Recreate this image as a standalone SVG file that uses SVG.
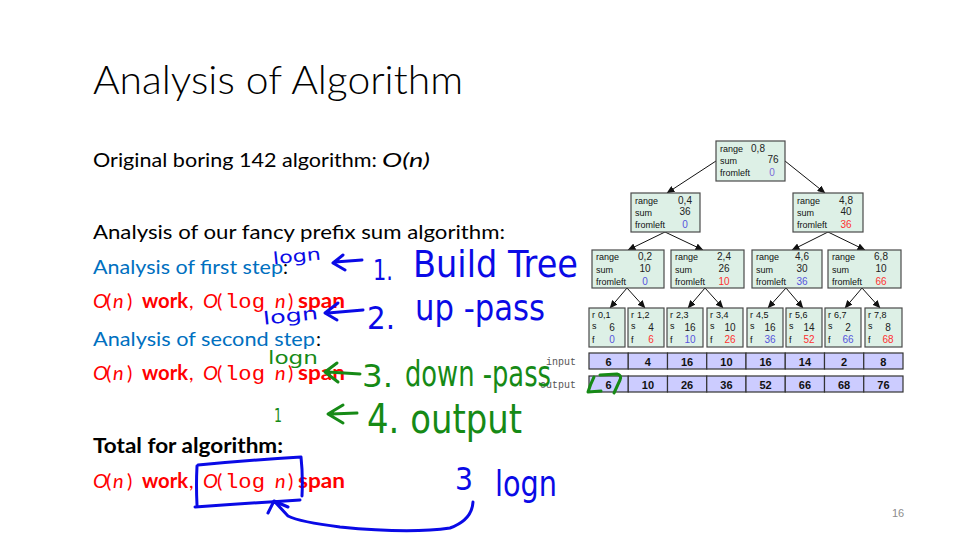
<svg xmlns="http://www.w3.org/2000/svg" width="960" height="540" viewBox="0 0 960 540">
<defs>
<marker id="ah" markerUnits="userSpaceOnUse" markerWidth="8" markerHeight="7" refX="7.5" refY="3.5" orient="auto">
<path d="M0,0 L8,3.5 L0,7 z" fill="#111"/>
</marker>
<style>
.t{font-family:Lato,"Open Sans","Liberation Sans",sans-serif;fill:#000}
.body{font-size:20px}
.red{fill:#ff0000}
.blu{fill:#0070c0}
.it{font-style:italic}
.b{font-weight:bold}
.mono{font-family:"Liberation Mono","DejaVu Sans Mono",monospace}
.box{fill:#ddf0e6;stroke:#4a4a4a;stroke-width:1.2}
.cell{fill:#ccccff;stroke:#333;stroke-width:1.2}
.lb{font-family:"Liberation Sans",Arial,sans-serif;font-size:9px;fill:#111}
.v{font-family:"Liberation Sans",Arial,sans-serif;font-size:10px;fill:#222;text-anchor:middle}
.fb{fill:#5555dd}
.fr{fill:#ff3030}
.fp{fill:#7a6ad8}
.cv{font-family:"Liberation Sans",Arial,sans-serif;font-size:11px;fill:#111;text-anchor:middle;font-weight:bold}
.io{font-family:"Liberation Mono",monospace;font-size:10px;fill:#555;text-anchor:end}
.conn line{stroke:#111;stroke-width:1;marker-end:url(#ah)}
.hw{font-family:"DejaVu Sans","Liberation Sans",sans-serif}
.hb{fill:#0a0ae6}
.hg{fill:#168a16}
.sb{fill:none;stroke:#0a0ae6;stroke-width:3;stroke-linecap:round;stroke-linejoin:round}
.sg{fill:none;stroke:#168a16;stroke-width:3;stroke-linecap:round;stroke-linejoin:round}
</style>
</defs>
<rect width="960" height="540" fill="#fff"/>

<g id="slide-text">
<text class="t" x="93" y="94" font-size="39" font-weight="300" textLength="370" lengthAdjust="spacingAndGlyphs">Analysis of Algorithm</text>
<text class="t body" y="167"><tspan x="93" textLength="284" lengthAdjust="spacingAndGlyphs">Original boring 142 algorithm:</tspan><tspan class="it" x="382" textLength="48" lengthAdjust="spacingAndGlyphs">O(n)</tspan></text>
<text class="t body" x="93" y="239" textLength="412" lengthAdjust="spacingAndGlyphs">Analysis of our fancy prefix sum algorithm:</text>
<text class="t body" y="274"><tspan class="blu" x="93" textLength="190" lengthAdjust="spacingAndGlyphs">Analysis of first step</tspan><tspan x="283">:</tspan></text>
<text class="t body red" y="308"><tspan class="it" x="93">O</tspan><tspan x="106">(</tspan><tspan class="it" x="113">n</tspan><tspan x="127">)</tspan><tspan class="b" x="142" textLength="46" lengthAdjust="spacingAndGlyphs">work</tspan><tspan x="189">,</tspan><tspan class="it" x="203">O</tspan><tspan x="217">(</tspan><tspan class="mono" x="225" textLength="40" lengthAdjust="spacingAndGlyphs">log</tspan><tspan class="it" x="275">n</tspan><tspan x="288">)</tspan><tspan class="b" x="298" textLength="47" lengthAdjust="spacingAndGlyphs">span</tspan></text>
<text class="t body" y="346"><tspan class="blu" x="93" textLength="222" lengthAdjust="spacingAndGlyphs">Analysis of second step</tspan><tspan x="316">:</tspan></text>
<text class="t body red" y="380"><tspan class="it" x="93">O</tspan><tspan x="106">(</tspan><tspan class="it" x="113">n</tspan><tspan x="127">)</tspan><tspan class="b" x="142" textLength="46" lengthAdjust="spacingAndGlyphs">work</tspan><tspan x="189">,</tspan><tspan class="it" x="203">O</tspan><tspan x="217">(</tspan><tspan class="mono" x="225" textLength="40" lengthAdjust="spacingAndGlyphs">log</tspan><tspan class="it" x="275">n</tspan><tspan x="288">)</tspan><tspan class="b" x="298" textLength="47" lengthAdjust="spacingAndGlyphs">span</tspan></text>
<text class="t body b" x="93" y="453" textLength="190" lengthAdjust="spacingAndGlyphs">Total for algorithm:</text>
<text class="t body red" y="488"><tspan class="it" x="93">O</tspan><tspan x="106">(</tspan><tspan class="it" x="113">n</tspan><tspan x="127">)</tspan><tspan class="b" x="142" textLength="46" lengthAdjust="spacingAndGlyphs">work</tspan><tspan x="189">,</tspan><tspan class="it" x="203">O</tspan><tspan x="217">(</tspan><tspan class="mono" x="225" textLength="40" lengthAdjust="spacingAndGlyphs">log</tspan><tspan class="it" x="275">n</tspan><tspan x="288">)</tspan><tspan class="b" x="298" textLength="47" lengthAdjust="spacingAndGlyphs">span</tspan></text>
<text x="892" y="517" font-family="Liberation Sans,sans-serif" font-size="11" fill="#8c8c8c">16</text>
</g>

<g id="connectors" class="conn">
<line x1="716" y1="161" x2="667" y2="193"/>
<line x1="785" y1="161" x2="825" y2="193"/>
<line x1="665" y1="232" x2="628" y2="250"/>
<line x1="665" y1="232" x2="703" y2="250"/>
<line x1="828" y1="232" x2="792" y2="250"/>
<line x1="828" y1="232" x2="865" y2="250"/>
<line x1="627" y1="288" x2="610" y2="308"/>
<line x1="627" y1="288" x2="645" y2="308"/>
<line x1="705" y1="288" x2="688" y2="308"/>
<line x1="705" y1="288" x2="723" y2="308"/>
<line x1="786" y1="288" x2="768" y2="308"/>
<line x1="786" y1="288" x2="803" y2="308"/>
<line x1="862" y1="288" x2="845" y2="308"/>
<line x1="862" y1="288" x2="880" y2="308"/>
</g>

<g id="node-0-8">
<rect class="box" x="716" y="141" width="69" height="40"/>
<text class="lb" x="720" y="152">range</text><text class="v" x="758" y="152">0,8</text>
<text class="lb" x="720" y="164">sum</text><text class="v" x="773" y="163">76</text>
<text class="lb" x="720" y="176">fromleft</text><text class="v fp" x="772" y="176">0</text>
</g>
<g id="node-0-4">
<rect class="box" x="631" y="193" width="69" height="39"/>
<text class="lb" x="635" y="204">range</text><text class="v" x="685" y="204">0,4</text>
<text class="lb" x="635" y="216">sum</text><text class="v" x="685" y="215">36</text>
<text class="lb" x="635" y="228">fromleft</text><text class="v fb" x="685" y="228">0</text>
</g>
<g id="node-4-8">
<rect class="box" x="793" y="193" width="70" height="39"/>
<text class="lb" x="797" y="204">range</text><text class="v" x="846" y="204">4,8</text>
<text class="lb" x="797" y="216">sum</text><text class="v" x="846" y="215">40</text>
<text class="lb" x="797" y="228">fromleft</text><text class="v fr" x="846" y="228">36</text>
</g>
<g id="node-0-2">
<rect class="box" x="592" y="250" width="72" height="38"/>
<text class="lb" x="596" y="260">range</text><text class="v" x="645" y="260">0,2</text>
<text class="lb" x="596" y="272.5">sum</text><text class="v" x="645" y="271.5">10</text>
<text class="lb" x="596" y="284.5">fromleft</text><text class="v fb" x="645" y="284.5">0</text>
</g>
<g id="node-2-4">
<rect class="box" x="671" y="250" width="73" height="38"/>
<text class="lb" x="675" y="260">range</text><text class="v" x="724" y="260">2,4</text>
<text class="lb" x="675" y="272.5">sum</text><text class="v" x="724" y="271.5">26</text>
<text class="lb" x="675" y="284.5">fromleft</text><text class="v fr" x="724" y="284.5">10</text>
</g>
<g id="node-4-6">
<rect class="box" x="752" y="250" width="70" height="38"/>
<text class="lb" x="756" y="260">range</text><text class="v" x="802" y="260">4,6</text>
<text class="lb" x="756" y="272.5">sum</text><text class="v" x="802" y="271.5">30</text>
<text class="lb" x="756" y="284.5">fromleft</text><text class="v fb" x="802" y="284.5">36</text>
</g>
<g id="node-6-8">
<rect class="box" x="828" y="250" width="73" height="38"/>
<text class="lb" x="832" y="260">range</text><text class="v" x="881" y="260">6,8</text>
<text class="lb" x="832" y="272.5">sum</text><text class="v" x="881" y="271.5">10</text>
<text class="lb" x="832" y="284.5">fromleft</text><text class="v fr" x="881" y="284.5">66</text>
</g>

<g id="leaf-0-1"><rect class="box" x="589" y="308" width="36" height="39"/><text class="lb" x="592" y="318">r</text><text class="lb" x="598" y="318">0,1</text><text class="lb" x="592" y="329">s</text><text class="v" x="612" y="331">6</text><text class="lb" x="592" y="343">f</text><text class="v fb" x="612" y="343">0</text></g>
<g id="leaf-1-2"><rect class="box" x="628" y="308" width="36" height="39"/><text class="lb" x="631" y="318">r</text><text class="lb" x="637" y="318">1,2</text><text class="lb" x="631" y="329">s</text><text class="v" x="651" y="331">4</text><text class="lb" x="631" y="343">f</text><text class="v fr" x="651" y="343">6</text></g>
<g id="leaf-2-3"><rect class="box" x="667" y="308" width="36" height="39"/><text class="lb" x="670" y="318">r</text><text class="lb" x="676" y="318">2,3</text><text class="lb" x="670" y="329">s</text><text class="v" x="690" y="331">16</text><text class="lb" x="670" y="343">f</text><text class="v fb" x="690" y="343">10</text></g>
<g id="leaf-3-4"><rect class="box" x="707" y="308" width="36" height="39"/><text class="lb" x="710" y="318">r</text><text class="lb" x="716" y="318">3,4</text><text class="lb" x="710" y="329">s</text><text class="v" x="730" y="331">10</text><text class="lb" x="710" y="343">f</text><text class="v fr" x="730" y="343">26</text></g>
<g id="leaf-4-5"><rect class="box" x="747" y="308" width="36" height="39"/><text class="lb" x="750" y="318">r</text><text class="lb" x="756" y="318">4,5</text><text class="lb" x="750" y="329">s</text><text class="v" x="770" y="331">16</text><text class="lb" x="750" y="343">f</text><text class="v fb" x="770" y="343">36</text></g>
<g id="leaf-5-6"><rect class="box" x="786" y="308" width="36" height="39"/><text class="lb" x="789" y="318">r</text><text class="lb" x="795" y="318">5,6</text><text class="lb" x="789" y="329">s</text><text class="v" x="809" y="331">14</text><text class="lb" x="789" y="343">f</text><text class="v fr" x="809" y="343">52</text></g>
<g id="leaf-6-7"><rect class="box" x="825" y="308" width="36" height="39"/><text class="lb" x="828" y="318">r</text><text class="lb" x="834" y="318">6,7</text><text class="lb" x="828" y="329">s</text><text class="v" x="848" y="331">2</text><text class="lb" x="828" y="343">f</text><text class="v fb" x="848" y="343">66</text></g>
<g id="leaf-7-8"><rect class="box" x="865" y="308" width="37" height="39"/><text class="lb" x="868" y="318">r</text><text class="lb" x="874" y="318">7,8</text><text class="lb" x="868" y="329">s</text><text class="v" x="888" y="331">8</text><text class="lb" x="868" y="343">f</text><text class="v fr" x="888" y="343">68</text></g>

<g id="input-row">
<text class="io" x="576" y="365">input</text>
<rect class="cell" x="589" y="353" width="39.25" height="16"/><rect class="cell" x="628.25" y="353" width="39.25" height="16"/><rect class="cell" x="667.5" y="353" width="39.25" height="16"/><rect class="cell" x="706.75" y="353" width="39.25" height="16"/><rect class="cell" x="746" y="353" width="39.25" height="16"/><rect class="cell" x="785.25" y="353" width="39.25" height="16"/><rect class="cell" x="824.5" y="353" width="39.25" height="16"/><rect class="cell" x="863.75" y="353" width="39.25" height="16"/>
<text class="cv" x="608.6" y="365.5">6</text><text class="cv" x="647.9" y="365.5">4</text><text class="cv" x="687.1" y="365.5">16</text><text class="cv" x="726.4" y="365.5">10</text><text class="cv" x="765.6" y="365.5">16</text><text class="cv" x="804.9" y="365.5">14</text><text class="cv" x="844.1" y="365.5">2</text><text class="cv" x="883.4" y="365.5">8</text>
</g>
<g id="output-row">
<text class="io" x="576" y="388">output</text>
<rect class="cell" x="589" y="376" width="39.25" height="16"/><rect class="cell" x="628.25" y="376" width="39.25" height="16"/><rect class="cell" x="667.5" y="376" width="39.25" height="16"/><rect class="cell" x="706.75" y="376" width="39.25" height="16"/><rect class="cell" x="746" y="376" width="39.25" height="16"/><rect class="cell" x="785.25" y="376" width="39.25" height="16"/><rect class="cell" x="824.5" y="376" width="39.25" height="16"/><rect class="cell" x="863.75" y="376" width="39.25" height="16"/>
<text class="cv" x="608.6" y="388.5">6</text><text class="cv" x="647.9" y="388.5">10</text><text class="cv" x="687.1" y="388.5">26</text><text class="cv" x="726.4" y="388.5">36</text><text class="cv" x="765.6" y="388.5">52</text><text class="cv" x="804.9" y="388.5">66</text><text class="cv" x="844.1" y="388.5">68</text><text class="cv" x="883.4" y="388.5">76</text>
</g>

<g id="annotations">
<text class="hw hb" x="273" y="262" font-size="17" textLength="48" lengthAdjust="spacingAndGlyphs" transform="rotate(-6 297 258)">logn</text>
<path class="sb" d="M343,255 L333,263 L345,270 M335,262 L362,260"/>
<text class="hw hb" x="373" y="280" font-size="28" textLength="20" lengthAdjust="spacingAndGlyphs">1.</text>
<text class="hw hb" x="413" y="277" font-size="38" textLength="165" lengthAdjust="spacingAndGlyphs">Build Tree</text>

<text class="hw hb" x="263" y="322" font-size="18" textLength="55" lengthAdjust="spacingAndGlyphs" transform="rotate(-6 290 316)">logn</text>
<path class="sb" d="M338,303 L325,313 L337,320 M328,313 L363,310"/>
<text class="hw hb" x="367" y="329" font-size="32" textLength="28" lengthAdjust="spacingAndGlyphs">2.</text>
<text class="hw hb" x="415" y="320" font-size="36" textLength="130" lengthAdjust="spacingAndGlyphs">up -pass</text>

<text class="hw hg" x="268" y="364" font-size="17" textLength="50" lengthAdjust="spacingAndGlyphs">logn</text>
<path class="sg" d="M337,363 L325,372 L338,382 M328,372 L360,374"/>
<text class="hw hg" x="362" y="387" font-size="32" textLength="31" lengthAdjust="spacingAndGlyphs">3.</text>
<text class="hw hg" x="405" y="386" font-size="36" textLength="146" lengthAdjust="spacingAndGlyphs">down -pass</text>
<path class="sg" d="M600,375 L617,374 Q622,375 620,380 L614,393 M594,377 Q590,385 588,392 L601,391" stroke-width="2.5"/>

<text class="hw hg" x="274" y="422" font-size="20" textLength="8" lengthAdjust="spacingAndGlyphs">1</text>
<path class="sg" d="M343,405 L328,414 L343,423 M331,414 L357,413"/>
<text class="hw hg" x="367" y="433" font-size="40" textLength="155" lengthAdjust="spacingAndGlyphs">4. output</text>

<path class="sb" d="M198,465 Q250,460 301,457 Q303,475 302,496 M197,466 Q196,485 197,505 M195,507 Q250,503 300,500"/>
<text class="hw hb" x="455" y="490" font-size="32" textLength="18" lengthAdjust="spacingAndGlyphs">3</text>
<text class="hw hb" x="495" y="496" font-size="36" textLength="62" lengthAdjust="spacingAndGlyphs">logn</text>
<path class="sb" d="M473,502 Q472,520 450,528 Q410,534 340,527 Q300,522 288,516 L275,502 M268,513 L274,501 L288,507"/>
</g>
</svg>
